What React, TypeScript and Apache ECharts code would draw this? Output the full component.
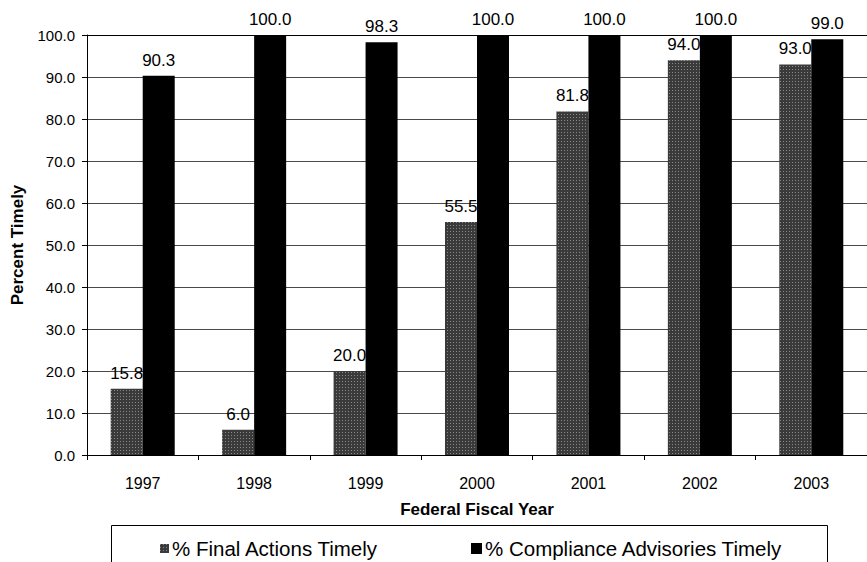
import React, { useEffect, useRef } from "react";
import * as echarts from "echarts";

// Fiscal years on the category axis
const years = ["1997", "1998", "1999", "2000", "2001", "2002", "2003"];

// Percent of final actions issued on time
const finalActions = [15.8, 6.0, 20.0, 55.5, 81.8, 94.0, 93.0];

// Percent of compliance advisories issued on time
const complianceAdvisories = [90.3, 100.0, 98.3, 100.0, 100.0, 100.0, 99.0];

const seriesNames = ["% Final Actions Timely", "% Compliance Advisories Timely"];

const FONT = "'Liberation Sans', Arial, Helvetica, sans-serif";

// gridlines are dark gray; the one at 100 closes the plot in black
const gridColors = [
  "#4a4a4a", "#4a4a4a", "#4a4a4a", "#4a4a4a", "#4a4a4a", "#4a4a4a",
  "#4a4a4a", "#4a4a4a", "#4a4a4a", "#4a4a4a", "#000",
];

export default function App() {
  const ref = useRef<HTMLDivElement>(null);

  useEffect(() => {
    if (!ref.current) return;
    const chart = echarts.init(ref.current, undefined, { renderer: "svg" });

    const valueLabel = {
      show: true,
      position: "top" as const,
      distance: 7,
      color: "#000",
      fontFamily: FONT,
      fontSize: 17,
      formatter: (p: any) => Number(p.value).toFixed(1),
    };

    chart.setOption({
      animation: false,
      backgroundColor: "#fff",
      textStyle: { fontFamily: FONT, color: "#000" },
      grid: { left: 87, right: -11, top: 35, bottom: 107, containLabel: false },
      xAxis: {
        type: "category",
        data: years,
        name: "Federal Fiscal Year",
        nameLocation: "middle",
        nameGap: 46,
        nameTextStyle: { fontFamily: FONT, fontSize: 17, fontWeight: "bold", color: "#000" },
        axisLine: { show: true, lineStyle: { color: "#000", width: 1 } },
        axisTick: { show: true, length: 5, lineStyle: { color: "#000" } },
        axisLabel: { fontFamily: FONT, fontSize: 16, color: "#000", margin: 20 },
        splitLine: { show: false },
      },
      yAxis: {
        type: "value",
        min: 0,
        max: 100,
        interval: 10,
        name: "Percent Timely",
        nameLocation: "middle",
        nameGap: 61,
        nameTextStyle: { fontFamily: FONT, fontSize: 17, fontWeight: "bold", color: "#000" },
        axisLine: { show: true, lineStyle: { color: "#000", width: 1 } },
        axisTick: { show: true, length: 5, lineStyle: { color: "#000" } },
        axisLabel: {
          fontFamily: FONT,
          fontSize: 15,
          color: "#000",
          margin: 12,
          formatter: (v: number) => v.toFixed(1),
        },
        splitLine: { show: true, lineStyle: { color: gridColors, width: 1 } },
      },
      legend: [
        {
          data: [seriesNames[0]],
          left: 155,
          top: 533,
          itemWidth: 9,
          itemHeight: 9,
          itemGap: 0,
          icon: "rect",
          textStyle: { fontFamily: FONT, fontSize: 20.5, color: "#000", padding: [0, 0, 0, -2] },
        },
        {
          data: [seriesNames[1]],
          left: 466,
          top: 533,
          itemWidth: 11,
          itemHeight: 11,
          itemGap: 0,
          icon: "rect",
          textStyle: { fontFamily: FONT, fontSize: 20.5, color: "#000", padding: [0, 0, 0, -2] },
        },
      ],
      graphic: [
        {
          type: "rect",
          shape: { x: 111.5, y: 525.5, width: 716, height: 60 },
          style: { fill: "none", stroke: "#000", lineWidth: 1 },
          silent: true,
          z: 0,
        },
      ],
      series: [
        {
          name: seriesNames[0],
          type: "bar",
          data: finalActions,
          barWidth: 32,
          barGap: "0%",
          z: 2,
          itemStyle: {
            color: "#3a3a3a",
            decal: {
              symbol: "rect",
              symbolSize: 1,
              color: "rgba(255,255,255,0.4)",
              dashArrayX: [1, 2],
              dashArrayY: [1, 2],
              rotation: 0,
            },
          },
          label: valueLabel,
        },
        {
          name: seriesNames[1],
          type: "bar",
          data: complianceAdvisories,
          barWidth: 32,
          z: 3,
          itemStyle: { color: "#000" },
          label: valueLabel,
        },
      ],
    });

    return () => chart.dispose();
  }, []);

  return (
    <div
      ref={ref}
      style={{ position: "fixed", left: 0, top: 0, width: 867, height: 562 }}
    />
  );
}
